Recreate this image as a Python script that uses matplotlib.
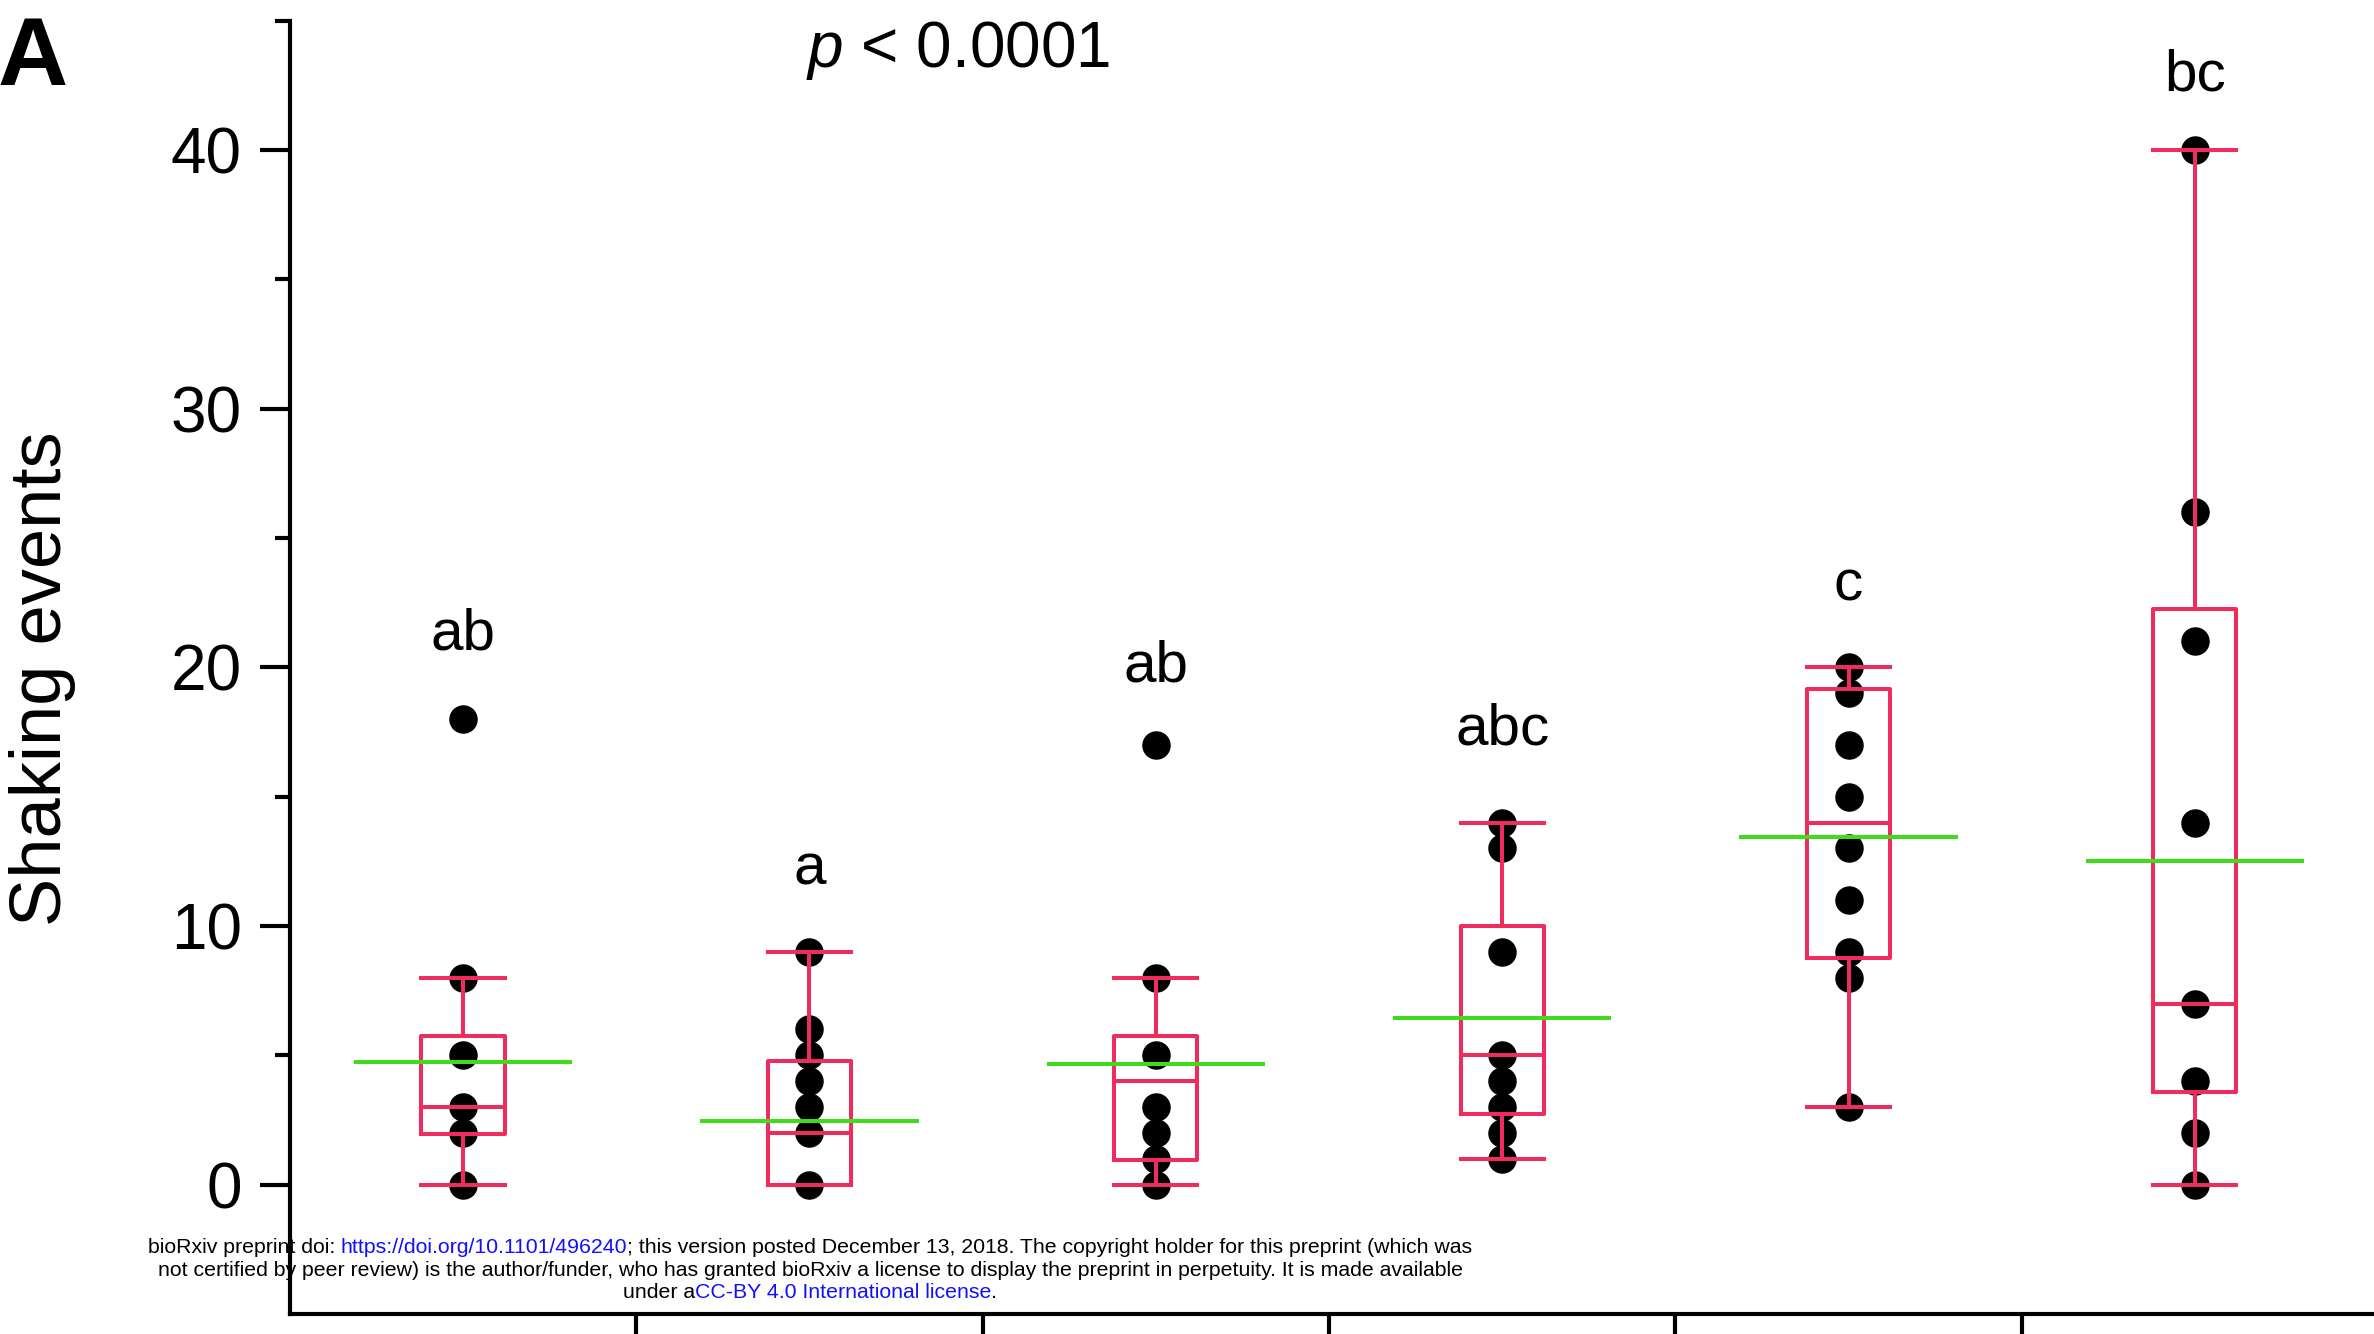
import numpy as np
import matplotlib
matplotlib.use("Agg")
import matplotlib.pyplot as plt

plt.rcParams["font.family"] = ["Liberation Sans", "DejaVu Sans"]
plt.rcParams["mathtext.fontset"] = "custom"
plt.rcParams["mathtext.it"] = "Liberation Sans:italic"
plt.rcParams["mathtext.rm"] = "Liberation Sans"

# shaking events per animal, one list per group
positions = [1, 2, 3, 4, 5, 6]
points = [
    [0, 2, 3, 5, 8, 18],
    [0, 2, 3, 4, 5, 6, 9],
    [0, 1, 2, 3, 5, 8, 17],
    [1, 2, 3, 4, 5, 9, 13, 14],
    [3, 8, 9, 11, 13, 15, 17, 19, 20],
    [0, 2, 4, 7, 14, 21, 26, 40],
]

# box summaries
whislo = [0, 0, 0, 1, 3, 0]
q1 = [1.95, 0, 0.95, 2.75, 8.75, 3.6]
medians = [3, 2, 4, 5, 14, 7]
q3 = [5.75, 4.77, 5.75, 10, 19.15, 22.25]
whishi = [8, 9, 8, 14, 20, 40]
means = [4.76, 2.45, 4.65, 6.45, 13.45, 12.5]

# significance letters
letters = ["ab", "a", "ab", "abc", "c", "bc"]
letter_y = [20.7, 11.6, 19.45, 17.0, 22.6, 42.3]

red = "#ee2c5e"
green = "#3fdc1c"

fig = plt.figure(figsize=(23.74, 13.34), dpi=100)
ax = fig.add_axes([0.1221, 0.015, 0.8779, 0.9695])

for x, vals in zip(positions, points):
    ax.plot(np.full(len(vals), x), vals, "o", color="black", ms=19.5,
            zorder=2, clip_on=False)

stats = [dict(med=m, q1=a, q3=b, whislo=lo, whishi=hi, fliers=[])
         for m, a, b, lo, hi in zip(medians, q1, q3, whislo, whishi)]
line = dict(color=red, lw=2.9)
ax.bxp(stats, positions=positions, widths=0.24, capwidths=0.24,
       showfliers=False, boxprops=line, whiskerprops=line, capprops=line,
       medianprops=line, manage_ticks=False, zorder=3)

pos = np.array(positions)
ax.hlines(means, pos - 0.315, pos + 0.315, color=green, lw=2.9, zorder=4)

for x, txt, y in zip(positions, letters, letter_y):
    ax.text(x, y, txt, ha="center", va="baseline", fontsize=42)

ax.text(2.43, 43.2, r"$p$ < 0.0001", ha="center", va="baseline", fontsize=46)

ax.set_xlim(0.5, 6.517)
ax.set_ylim(-5, 45)
ax.spines["top"].set_visible(False)
ax.spines["right"].set_visible(False)
ax.spines["left"].set_linewidth(3)
ax.spines["bottom"].set_linewidth(3)

ax.set_yticks([0, 10, 20, 30, 40])
ax.set_yticks([5, 15, 25, 35, 45], minor=True)
ax.tick_params(axis="y", which="major", length=21.6, width=3,
               labelsize=46, pad=13)
ax.tick_params(axis="y", which="minor", length=10.8, width=3)
ax.set_xticks([1.5, 2.5, 3.5, 4.5, 5.5])
ax.set_xticklabels([])
ax.tick_params(axis="x", which="major", length=20, width=3)

fig.text(0.0177, 0.491, "Shaking events", rotation=90, ha="center",
         va="center", fontsize=52)
fig.text(-2 / 2374, 1 - 85 / 1334, "A", fontweight="bold", fontsize=70,
         ha="left", va="baseline")

# preprint footer, pieces laid out left to right and centred
fs = 15.3
blue = "#1010ff"
footer = [
    (1253, [("bioRxiv preprint doi:", "black", 0),
            ("https://doi.org/10.1101/496240", blue, 1),
            ("; this version posted December 13, 2018. The copyright holder "
             "for this preprint (which was", "black", 0)]),
    (1276, [("not certified by peer review) is the author/funder, who has "
             "granted bioRxiv a license to display the preprint in perpetuity."
             " It is made available", "black", 0)]),
    (1298, [("under a", "black", 0),
            ("CC-BY 4.0 International license", blue, 0),
            (".", "black", 0)]),
]
renderer = fig.canvas.get_renderer()
space = 0.278 * fs * 100 / 72
for ypix, parts in footer:
    items = []
    for s, c, gap in parts:
        t = fig.text(0, 1 - ypix / 1334, s, color=c, fontsize=fs,
                     va="baseline", ha="left")
        items.append((t, t.get_window_extent(renderer).width, gap))
    total = sum(w + g * space for _, w, g in items)
    xpix = 810 - total / 2
    for t, w, g in items:
        xpix += g * space
        t.set_x(xpix / 2374)
        xpix += w

fig.savefig("out.png", dpi=100)
